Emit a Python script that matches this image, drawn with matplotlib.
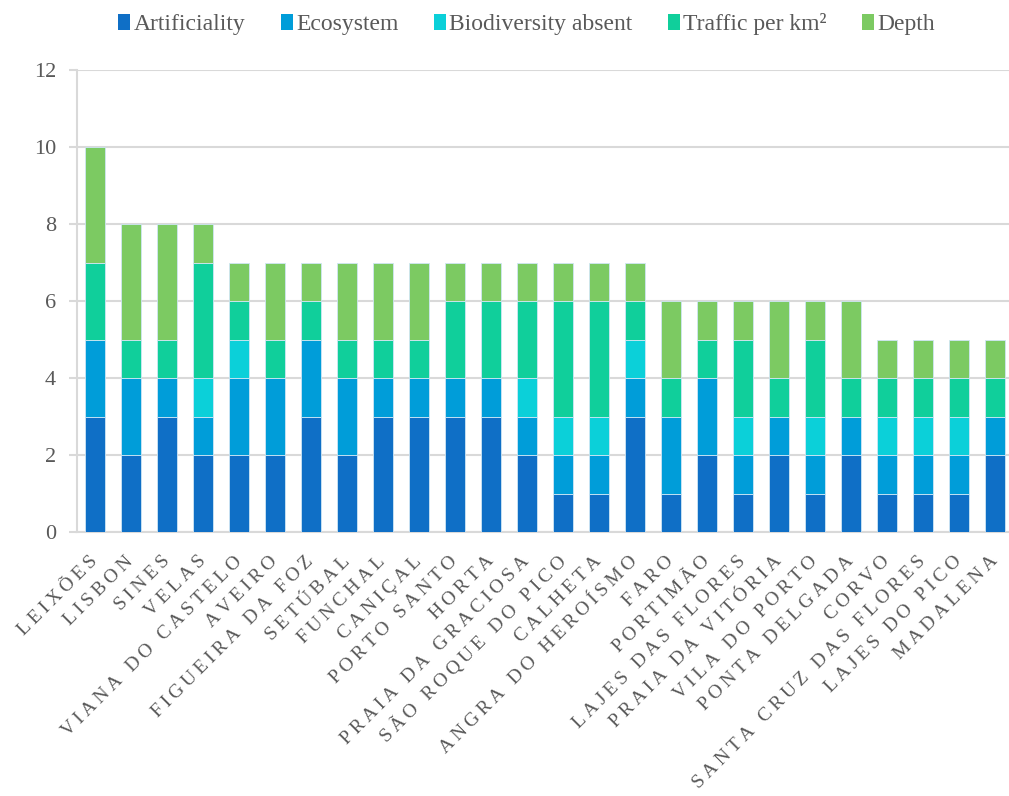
import numpy as np
import matplotlib
matplotlib.use('Agg')
import matplotlib.pyplot as plt
from matplotlib.patches import Patch

ports = ['LEIXÕES', 'LISBON', 'SINES', 'VELAS', 'VIANA DO CASTELO', 'AVEIRO',
         'FIGUEIRA DA FOZ', 'SETÚBAL', 'FUNCHAL', 'CANIÇAL', 'PORTO SANTO', 'HORTA',
         'PRAIA DA GRACIOSA', 'SÃO ROQUE DO PICO', 'CALHETA', 'ANGRA DO HEROÍSMO',
         'FARO', 'PORTIMÃO', 'LAJES DAS FLORES', 'PRAIA DA VITÓRIA', 'VILA DO PORTO',
         'PONTA DELGADA', 'CORVO', 'SANTA CRUZ DAS FLORES', 'LAJES DO PICO', 'MADALENA']

artificiality = [3, 2, 3, 2, 2, 2, 3, 2, 3, 3, 3, 3, 2, 1, 1, 3, 1, 2, 1, 2, 1, 2, 1, 1, 1, 2]
ecosystem     = [2, 2, 1, 1, 2, 2, 2, 2, 1, 1, 1, 1, 1, 1, 1, 1, 2, 2, 1, 1, 1, 1, 1, 1, 1, 1]
biodiversity  = [0, 0, 0, 1, 1, 0, 0, 0, 0, 0, 0, 0, 1, 1, 1, 1, 0, 0, 1, 0, 1, 0, 1, 1, 1, 0]
traffic       = [2, 1, 1, 3, 1, 1, 1, 1, 1, 1, 2, 2, 2, 3, 3, 1, 1, 1, 2, 1, 2, 1, 1, 1, 1, 1]
depth         = [3, 3, 3, 1, 1, 2, 1, 2, 2, 2, 1, 1, 1, 1, 1, 1, 2, 1, 1, 2, 1, 2, 1, 1, 1, 1]

series_names = ['Artificiality', 'Ecosystem', 'Biodiversity absent', 'Traffic per km²', 'Depth']
series = [artificiality, ecosystem, biodiversity, traffic, depth]
colors = ['#0F6FC6', '#009DD9', '#0BD0D9', '#10CF9B', '#7CCA62']

yticks = [0, 2, 4, 6, 8, 10, 12]

serif = ['Liberation Serif', 'DejaVu Serif']
txt = '#595959'
grid_col = '#D9D9D9'

fig = plt.figure(figsize=(10.09, 7.96), dpi=100)
ax = fig.add_axes([0.0763, 0.3313, 1.004 - 0.0763, 0.9117 - 0.3313])

x = np.arange(len(ports))
bottom = np.zeros(len(ports))
for vals, c, name in zip(series, colors, series_names):
    vals = np.array(vals, dtype=float)
    ax.bar(x, vals, width=0.55, bottom=bottom, color=c, edgecolor='#cfe6f5',
           linewidth=0.6, label=name, zorder=3)
    bottom += vals

ax.set_xlim(-0.5, len(ports) - 0.5)
ax.set_ylim(0, 12)
ax.set_yticks(yticks)
ax.set_yticklabels([str(v) for v in yticks], family=serif, fontsize=16, color=txt)
ax.yaxis.grid(True, color=grid_col, linewidth=1.5, zorder=0)
ax.set_axisbelow(True)

for s in ['top', 'right']:
    ax.spines[s].set_visible(False)
ax.spines['left'].set_color(grid_col)
ax.spines['left'].set_linewidth(1.5)
ax.spines['bottom'].set_color(grid_col)
ax.spines['bottom'].set_linewidth(1.5)
ax.tick_params(axis='y', length=6, width=1.5, color=grid_col, pad=9)
ax.tick_params(axis='x', length=0, pad=19)

# spaced-out caps for the port names
spaced = ['\u2009'.join(list(p)) for p in ports]
ax.set_xticks(x)
ax.set_xticklabels(spaced, rotation=45, ha='right', va='center',
                   rotation_mode='anchor', family=serif, fontsize=14, color=txt)

handles = [Patch(facecolor=c, edgecolor='none') for c in colors]
leg = fig.legend(handles, series_names, loc='upper center', bbox_to_anchor=(0.522, 1.01),
                 ncol=5, frameon=False, handlelength=0.5, handleheight=0.65,
                 handletextpad=0.15, columnspacing=1.5,
                 prop={'family': serif, 'size': 17})
for t in leg.get_texts():
    t.set_color(txt)

fig.savefig('out.png', dpi=100)
